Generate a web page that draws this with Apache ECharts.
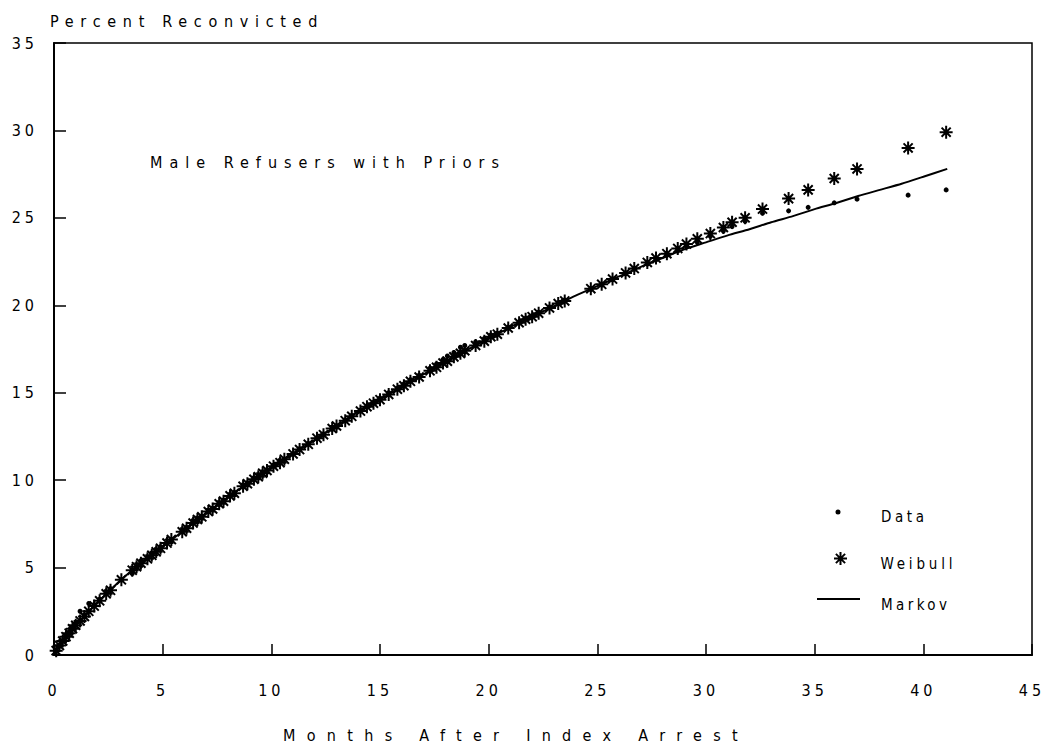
<!DOCTYPE html>
<html>
<head>
<meta charset="utf-8">
<script src="https://cdn.jsdelivr.net/npm/echarts@6/dist/echarts.min.js"></script>
<style>html,body{margin:0;padding:0;background:#fff}#c{width:1046px;height:746px}</style>
</head>
<body>
<div id="c"></div>
<script>
// Months after index arrest at which values are plotted
var months = [0.1, 0.25, 0.4, 0.55, 0.7, 0.85, 1.0, 1.2, 1.4, 1.6, 1.85, 2.1, 2.4, 2.6, 3.1, 3.6, 3.8, 4.0, 4.3, 4.5, 4.7, 4.9, 5.2, 5.4, 5.9, 6.1, 6.4, 6.6, 6.8, 7.1, 7.3, 7.6, 7.8, 8.1, 8.3, 8.7, 8.9, 9.2, 9.4, 9.6, 9.8, 10.1, 10.4, 10.6, 11.0, 11.3, 11.7, 12.1, 12.4, 12.8, 13.0, 13.4, 13.7, 14.1, 14.4, 14.7, 15.0, 15.4, 15.8, 16.1, 16.4, 16.8, 17.3, 17.6, 17.9, 18.1, 18.4, 18.7, 18.9, 19.4, 19.8, 20.1, 20.4, 20.9, 21.4, 21.7, 22.0, 22.3, 22.8, 23.2, 23.5, 24.7, 25.2, 25.7, 26.3, 26.7, 27.3, 27.7, 28.2, 28.7, 29.1, 29.6, 30.2, 30.8, 31.2, 31.8, 32.6, 33.8, 34.7, 35.9, 36.95, 39.3, 41.05];

var dataValues = [0.2, 0.5, 0.8, 1.1, 1.3, 1.5, 1.8, 2.5, 2.3, 2.95, 2.9, 3.2, 3.5, 3.8, 4.3, 4.65, 5.0, 5.4, 5.6, 5.8, 6.0, 6.2, 6.4, 6.6, 7.1, 7.3, 7.6, 7.8, 7.95, 8.2, 8.4, 8.6, 8.85, 9.1, 9.3, 9.6, 9.85, 10.1, 10.25, 10.4, 10.6, 10.85, 11.05, 11.2, 11.5, 11.8, 12.1, 12.4, 12.65, 12.9, 13.1, 13.45, 13.7, 14.0, 14.25, 14.45, 14.7, 15.0, 15.25, 15.5, 15.75, 16.0, 16.4, 16.65, 16.9, 17.1, 17.3, 17.6, 17.7, 17.9, 18.1, 18.3, 18.4, 18.75, 19.05, 19.25, 19.4, 19.6, 19.9, 20.15, 20.3, 20.9, 21.15, 21.45, 21.8, 22.05, 22.35, 22.6, 22.85, 23.1, 23.35, 23.6, 23.95, 24.25, 24.5, 24.8, 25.27, 25.4, 25.6, 25.86, 26.07, 26.3, 26.6];

var weibullValues = [0.25, 0.55, 0.8, 1.05, 1.25, 1.5, 1.7, 1.95, 2.2, 2.5, 2.8, 3.1, 3.5, 3.7, 4.3, 4.85, 5.05, 5.25, 5.5, 5.7, 5.9, 6.1, 6.4, 6.6, 7.05, 7.25, 7.55, 7.75, 7.9, 8.2, 8.35, 8.65, 8.8, 9.1, 9.25, 9.65, 9.8, 10.05, 10.2, 10.4, 10.55, 10.8, 11.0, 11.2, 11.5, 11.75, 12.05, 12.4, 12.6, 12.95, 13.1, 13.4, 13.65, 13.95, 14.2, 14.4, 14.6, 14.9, 15.2, 15.4, 15.65, 15.9, 16.25, 16.45, 16.7, 16.8, 17.05, 17.25, 17.4, 17.7, 17.95, 18.2, 18.35, 18.7, 19.0, 19.2, 19.35, 19.55, 19.85, 20.1, 20.25, 20.95, 21.2, 21.5, 21.85, 22.1, 22.45, 22.7, 22.95, 23.25, 23.5, 23.8, 24.1, 24.45, 24.75, 25.0, 25.5, 26.1, 26.6, 27.25, 27.8, 29.0, 29.9];

// Markov model curve
var markovMonths = [0, 0.25, 0.5, 1, 1.5, 2, 2.5, 3, 3.5, 4, 5, 6, 7, 8, 9, 10, 11, 12, 13, 14, 15, 16, 17, 18, 19, 20, 21, 22, 23, 24, 25, 26, 27, 28, 29, 30, 31, 32, 33, 34, 35, 36, 37, 38, 39, 40, 41.1];
var markovValues = [0, 0.55, 0.95, 1.7, 2.35, 3.0, 3.6, 4.2, 4.75, 5.25, 6.2, 7.15, 8.1, 9.0, 9.9, 10.7, 11.5, 12.3, 13.1, 13.9, 14.6, 15.35, 16.05, 16.75, 17.45, 18.1, 18.75, 19.35, 19.95, 20.55, 21.1, 21.65, 22.2, 22.7, 23.2, 23.6, 24.0, 24.35, 24.75, 25.1, 25.5, 25.85, 26.25, 26.6, 26.95, 27.35, 27.8];

var xTicks = [0, 5, 10, 15, 20, 25, 30, 35, 40, 45];
var yTicks = [0, 5, 10, 15, 20, 25, 30, 35];

function pairs(xs, ys) { return xs.map(function (x, i) { return [x, ys[i]]; }); }

var FONT = '"Liberation Sans Narrow", "DejaVu Sans Condensed", "DejaVu Sans", sans-serif';
var ASTERISK = 'path://M10,0 L10,20 M0,10 L20,10 M3,3 L17,17 M17,3 L3,17';
// legend icons: a 59x24 box (set by the bare move-to points) with the glyph placed left-of-centre
var ICON_DATA = 'path://M0,0 M59,24 M18.5,7 a2.5,2.5 0 1,0 5,0 a2.5,2.5 0 1,0 -5,0 Z';
var ICON_WEIBULL = 'path://M0,0 M56,24 M21,0.5 L21,13.5 M14.5,7 L27.5,7 M16.4,2.4 L25.6,11.6 M25.6,2.4 L16.4,11.6';
var ICON_MARKOV = 'path://M0,0 M59,24 M0,5 L43,5 L43,7 L0,7 Z';
var TXT = { fontFamily: FONT, color: '#000', fontWeight: 'normal' };
function txt(extra) { return Object.assign({}, TXT, extra); }
function legendAt(top, name, icon, w) {
  return {
    orient: 'vertical', left: 817, top: top, itemWidth: w, itemHeight: 24, itemGap: 0,
    data: [{ name: name, icon: icon }], selectedMode: false, padding: 0,
    textStyle: txt({ fontSize: 15 })
  };
}

var chart = echarts.init(document.getElementById('c'), null, { renderer: 'svg' });
chart.setOption({
  animation: false,
  backgroundColor: '#fff',
  textStyle: { fontFamily: FONT, color: '#000' },
  title: {
    text: 'Male Refusers with Priors',
    left: 145, top: 149,
    textStyle: txt({ fontSize: 16 })
  },
  grid: {
    left: 54, right: 14, top: 43, bottom: 91,
    show: true, borderColor: '#000', borderWidth: 1.5,
    containLabel: false, outerBoundsMode: 'none'
  },
  legend: [
    legendAt(505, 'Data', ICON_DATA, 59),
    legendAt(549, 'Weibull', ICON_WEIBULL, 56),
    legendAt(593, 'Markov', ICON_MARKOV, 59)
  ],
  xAxis: {
    type: 'value', min: xTicks[0], max: xTicks[xTicks.length - 1], interval: 5,
    name: 'Months After Index Arrest', nameLocation: 'middle', nameGap: 72,
    nameTextStyle: txt({ fontSize: 16, padding: [0, 54, 0, 0] }),
    axisLine: { show: true, onZero: false, lineStyle: { color: '#000', width: 2 } },
    axisTick: { show: true, inside: true, length: 11, lineStyle: { color: '#000', width: 1.5 } },
    axisLabel: txt({ margin: 27, fontSize: 16 }),
    splitLine: { show: false }
  },
  yAxis: {
    type: 'value', min: yTicks[0], max: yTicks[yTicks.length - 1], interval: 5,
    name: 'Percent Reconvicted', nameLocation: 'end', nameGap: 14,
    nameTextStyle: txt({ fontSize: 16, align: 'left', padding: [0, 0, 0, -4] }),
    axisLine: { show: true, onZero: false, lineStyle: { color: '#000', width: 2 } },
    axisTick: { show: true, inside: true, length: 12, lineStyle: { color: '#000', width: 1.5 } },
    axisLabel: txt({ margin: 16, fontSize: 16 }),
    splitLine: { show: false }
  },
  series: [
    {
      name: 'Data', type: 'scatter', symbol: 'circle', symbolSize: 5,
      itemStyle: { color: '#000', opacity: 1 },
      data: pairs(months, dataValues), z: 2
    },
    {
      name: 'Weibull', type: 'scatter', symbol: ASTERISK, symbolSize: 13,
      itemStyle: { color: 'none', borderColor: '#000', borderWidth: 2, opacity: 1 },
      data: pairs(months, weibullValues), z: 3
    },
    {
      name: 'Markov', type: 'line', symbol: 'none', smooth: 0.2,
      lineStyle: { color: '#000', width: 2 },
      itemStyle: { color: '#000' },
      data: pairs(markovMonths, markovValues), z: 4
    }
  ]
});

// Typewriter-style letter spacing of the plotter lettering (SVG text)
var spacing = {
  'Months After Index Arrest': '11.3px',
  'Percent Reconvicted': '6.7px',
  'Male Refusers with Priors': '7px',
  'Data': '3.6px', 'Weibull': '3.8px', 'Markov': '3.4px'
};
document.querySelectorAll('#c text').forEach(function (t) {
  var s = spacing[t.textContent];
  t.style.letterSpacing = s || '4px';
});
</script>
</body>
</html>
